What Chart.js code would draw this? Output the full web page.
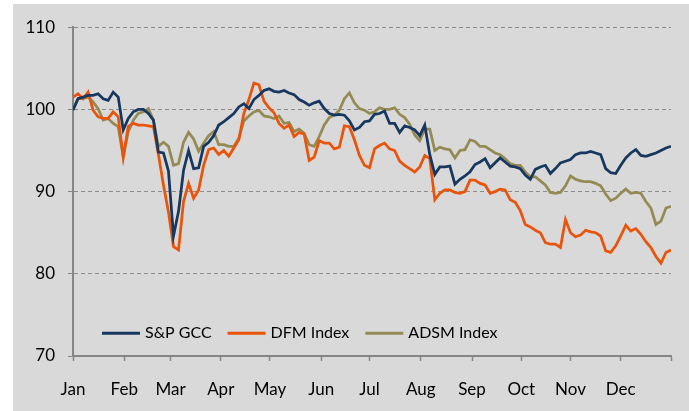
<!DOCTYPE html>
<html>
<head>
<meta charset="utf-8">
<script src="https://cdn.jsdelivr.net/npm/chart.js"></script>
<style>
  body { margin: 0; background: #fff; }
  #wrap { position: absolute; left: 13px; top: 4px; width: 676px; height: 407px; background: #d9d9d9; }
</style>
</head>
<body>
<div id="wrap"><canvas id="indexChart"></canvas></div>
<script>
// one point every ~2 trading days, month starts given in point units
const months = ['Jan', 'Feb', 'Mar', 'Apr', 'May', 'Jun', 'Jul', 'Aug', 'Sep', 'Oct', 'Nov', 'Dec'];
const monthTicks = [0, 10.2, 19.4, 29.4, 39.2, 49.4, 59, 69.2, 79.4, 89.2, 99, 109, 119];
const yTicks = [70, 80, 90, 100, 110];

const spGcc = [
  99.9, 101.3, 101.5, 101.7, 101.7, 101.9, 101.3, 101.1, 102.1, 101.5,
  97.5, 98.9, 99.7, 100.0, 100.0, 99.5, 98.7, 94.8, 94.7, 92.5,
  84.6, 87.6, 92.6, 95.0, 92.8, 92.9, 95.5, 96.0, 96.8, 98.1,
  98.5, 99.0, 99.5, 100.3, 100.7, 100.1, 101.2, 101.7, 102.3, 102.5,
  102.2, 102.1, 102.3, 102.0, 101.8, 101.2, 100.9, 100.5, 100.8, 101.0,
  100.1, 99.5, 99.3, 99.4, 99.3, 98.6, 97.5, 97.8, 98.5, 98.6,
  99.4, 99.5, 99.8, 98.3, 98.3, 97.2, 98.0, 97.8, 97.5, 96.8,
  98.1, 94.5, 92.1, 93.0, 93.0, 93.1, 90.9, 91.5, 91.9, 92.4,
  93.3, 93.6, 94.0, 92.9, 93.5, 94.1, 93.6, 93.1, 93.0, 92.8,
  92.0, 91.5, 92.7, 93.0, 93.2, 92.2, 92.8, 93.5, 93.7, 93.9,
  94.5, 94.7, 94.7, 94.9, 94.7, 94.5, 92.8, 92.3, 92.2, 93.2,
  94.1, 94.7, 95.1, 94.4, 94.3, 94.5, 94.7, 95.0, 95.3, 95.5
];
const dfmIndex = [
  101.5, 101.9, 101.3, 102.1, 99.9, 99.1, 98.9, 98.9, 99.7, 99.1,
  94.2, 97.9, 98.3, 98.1, 98.1, 98.0, 97.9, 94.5, 90.8, 87.5,
  83.3, 82.9, 88.8, 91.0, 89.2, 90.2, 93.2, 95.1, 95.3, 94.5,
  95.0, 94.3, 95.3, 96.3, 99.5, 101.2, 103.2, 103.0, 101.0, 100.2,
  99.6, 98.3, 97.7, 98.1, 96.7, 97.2, 97.0, 93.8, 94.2, 96.2,
  95.9, 95.9, 95.2, 95.4, 98.0, 97.9, 96.3, 94.4, 93.2, 92.9,
  95.2, 95.6, 95.9, 95.2, 95.0, 93.7, 93.2, 92.8, 92.4, 93.0,
  94.4, 94.0, 89.0, 89.8, 90.2, 90.2, 89.9, 89.8, 90.0, 91.4,
  91.4, 91.0, 90.8, 89.8, 90.0, 90.3, 90.2, 89.0, 88.7, 87.7,
  86.0, 85.7, 85.3, 85.0, 83.8, 83.6, 83.6, 83.2, 86.6, 85.0,
  84.5, 84.7, 85.3, 85.1, 85.0, 84.6, 82.8, 82.6, 83.4, 84.6,
  85.9, 85.2, 85.5, 84.8, 83.9, 83.2, 82.1, 81.3, 82.6, 82.9
];
const adsmIndex = [
  100.0, 101.3, 101.3, 101.5, 100.9, 100.1, 98.7, 98.9, 98.3, 97.9,
  94.2, 97.3, 98.7, 99.5, 99.7, 100.1, 98.7, 95.5, 96.0, 95.5,
  93.2, 93.4, 96.0, 97.2, 96.4, 94.9, 95.9, 96.8, 97.3, 95.7,
  95.7, 95.5, 95.5, 96.5, 98.6, 99.2, 99.7, 99.9, 99.2, 99.1,
  98.9, 99.2, 98.3, 98.4, 97.3, 97.6, 97.1, 95.7, 95.5, 96.7,
  98.1, 99.0, 99.3, 99.9, 101.3, 102.0, 100.8, 100.1, 99.9, 99.5,
  99.7, 100.2, 100.0, 100.0, 100.2, 99.4, 99.0, 98.2, 96.9, 96.2,
  97.6, 97.6, 95.0, 95.4, 95.2, 95.1, 94.1, 95.0, 95.1, 96.3,
  96.1, 95.5, 95.5, 95.1, 94.7, 94.5, 94.0, 93.4, 93.2, 93.2,
  92.4, 91.8, 91.8, 91.3, 90.8, 89.9, 89.8, 89.9, 90.7, 91.9,
  91.5, 91.3, 91.2, 91.2, 91.0, 90.7, 89.7, 88.9, 89.2, 89.8,
  90.3, 89.8, 89.9, 89.8, 88.8, 88.0, 86.0, 86.4, 88.0, 88.2
];

const toPoints = arr => arr.map((v, i) => ({ x: i, y: v }));

// legend sits inside the plot, above the x axis
const insideLegend = {
  id: 'insideLegend',
  afterDatasetsDraw(chart) {
    const ctx = chart.ctx;
    let x = chart.chartArea.left + 29;
    const y = chart.chartArea.top + 306;
    ctx.save();
    ctx.font = '16px Lato';
    ctx.textBaseline = 'middle';
    chart.data.datasets.forEach(ds => {
      ctx.strokeStyle = ds.borderColor;
      ctx.lineWidth = 3;
      ctx.beginPath();
      ctx.moveTo(x, y);
      ctx.lineTo(x + 38, y);
      ctx.stroke();
      x += 43;
      ctx.fillStyle = '#000';
      ctx.fillText(ds.label, x, y);
      x += ctx.measureText(ds.label).width + 16;
    });
    ctx.restore();
  }
};

const ctx = document.getElementById('indexChart').getContext('2d');
new Chart(ctx, {
  type: 'line',
  data: {
    datasets: [
      { label: 'S&P GCC', data: toPoints(spGcc), borderColor: '#17375e', borderWidth: 2.75, pointRadius: 0 },
      { label: 'DFM Index', data: toPoints(dfmIndex), borderColor: '#e8540a', borderWidth: 2.75, pointRadius: 0 },
      { label: 'ADSM Index', data: toPoints(adsmIndex), borderColor: '#948a54', borderWidth: 2.75, pointRadius: 0 }
    ]
  },
  plugins: [insideLegend],
  options: {
    responsive: true,
    maintainAspectRatio: false,
    animation: false,
    layout: { padding: { top: 14, right: 8, left: 0, bottom: 0 } },
    plugins: { legend: { display: false }, tooltip: { enabled: false } },
    scales: {
      x: {
        type: 'linear',
        min: 0,
        max: 119,
        afterBuildTicks: s => { s.ticks = monthTicks.map(v => ({ value: v })); },
        afterFit: s => { s.height = 55; },
        grid: { drawOnChartArea: false, tickLength: 5, tickColor: '#868686', tickWidth: 1.5 },
        border: { color: '#868686', width: 2 },
        ticks: {
          autoSkip: false,
          maxRotation: 0,
          padding: 18,
          color: '#000',
          font: { family: 'Lato', size: 17 },
          callback: (v, i) => months[i] || ''
        }
      },
      y: {
        min: 70,
        max: 110,
        afterBuildTicks: s => { s.ticks = yTicks.map(v => ({ value: v })); },
        afterFit: s => { s.width = 60; },
        grid: { color: '#8c8c8c', lineWidth: 1, tickLength: 5, tickColor: '#868686' },
        border: { color: '#868686', width: 2, dash: [4, 3] },
        ticks: { padding: 13, color: '#000', font: { family: 'Lato', size: 17 } }
      }
    }
  }
});
</script>
</body>
</html>
